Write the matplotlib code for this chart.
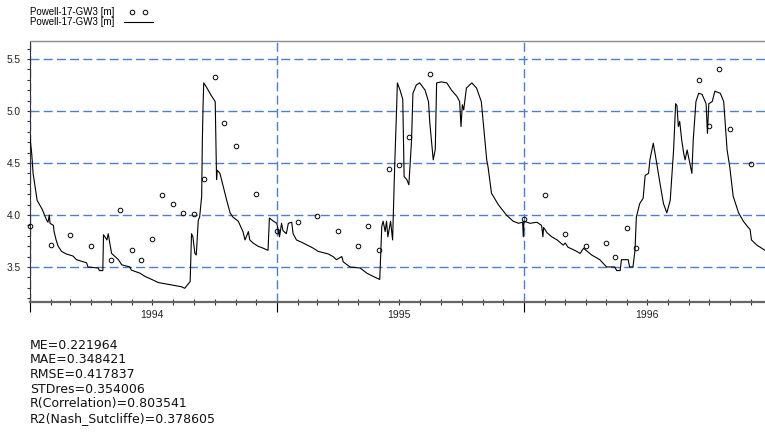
"""
Grundwasserstand Powell-17-GW3: Beobachtung vs. Simulation, 1994-1996,
mit Guetemassen unter dem Diagramm.
"""

import matplotlib
matplotlib.use("Agg")
import matplotlib.pyplot as plt
import matplotlib.dates as mdates
import pandas as pd
from matplotlib.legend_handler import HandlerLine2D
from matplotlib.ticker import FuncFormatter, MultipleLocator, NullFormatter, FormatStrFormatter

OUTPUT = "out.png"

SERIES_LABEL = "Powell-17-GW3 [m]"

# simulierte Ganglinie (Stuetzstellen)
SIM_DATES = [
    "1994-01-01", "1994-01-04", "1994-01-06", "1994-01-09", "1994-01-12", "1994-01-19",
    "1994-01-21", "1994-01-26", "1994-01-28", "1994-01-30", "1994-01-31", "1994-02-05",
    "1994-02-06", "1994-02-09", "1994-02-12", "1994-02-17", "1994-02-24", "1994-03-06",
    "1994-03-11", "1994-03-26", "1994-03-28", "1994-04-12", "1994-04-14", "1994-04-19",
    "1994-04-20", "1994-04-22", "1994-04-25", "1994-04-27", "1994-04-29", "1994-05-02",
    "1994-05-07", "1994-05-12", "1994-05-17", "1994-05-29", "1994-05-31", "1994-06-13",
    "1994-06-20", "1994-07-02", "1994-07-10", "1994-07-27", "1994-08-13", "1994-08-18",
    "1994-08-26", "1994-08-28", "1994-08-30", "1994-09-02", "1994-09-04", "1994-09-07",
    "1994-09-09", "1994-09-12", "1994-09-13", "1994-09-14", "1994-09-15", "1994-09-19",
    "1994-09-26", "1994-10-02", "1994-10-04", "1994-10-05", "1994-10-09", "1994-10-14",
    "1994-10-19", "1994-10-24", "1994-10-28", "1994-11-05", "1994-11-12", "1994-11-15",
    "1994-11-20", "1994-11-22", "1994-11-27", "1994-12-04", "1994-12-12", "1994-12-19",
    "1994-12-21", "1994-12-27", "1995-01-01", "1995-01-05", "1995-01-08", "1995-01-10",
    "1995-01-15", "1995-01-18", "1995-01-23", "1995-01-25", "1995-01-30", "1995-02-09",
    "1995-02-24", "1995-03-03", "1995-03-18", "1995-03-25", "1995-03-30", "1995-04-07",
    "1995-04-09", "1995-04-19", "1995-05-04", "1995-05-14", "1995-05-23", "1995-06-02",
    "1995-06-05", "1995-06-07", "1995-06-10", "1995-06-12", "1995-06-14", "1995-06-18",
    "1995-06-21", "1995-06-24", "1995-06-27", "1995-06-28", "1995-07-02", "1995-07-06",
    "1995-07-08", "1995-07-12", "1995-07-15", "1995-07-19", "1995-07-21", "1995-07-26",
    "1995-07-31", "1995-08-08", "1995-08-13", "1995-08-15", "1995-08-20", "1995-08-23",
    "1995-08-25", "1995-09-01", "1995-09-09", "1995-09-16", "1995-09-24", "1995-09-28",
    "1995-09-30", "1995-10-02", "1995-10-04", "1995-10-08", "1995-10-16", "1995-10-23",
    "1995-10-30", "1995-11-07", "1995-11-09", "1995-11-14", "1995-11-24", "1995-12-06",
    "1995-12-16", "1995-12-24", "1995-12-30", "1995-12-31", "1996-01-01", "1996-01-10",
    "1996-01-20", "1996-01-27", "1996-01-29", "1996-01-30", "1996-02-04", "1996-02-11",
    "1996-02-19", "1996-02-28", "1996-03-02", "1996-03-06", "1996-03-16", "1996-03-24",
    "1996-03-29", "1996-04-10", "1996-04-22", "1996-05-02", "1996-05-14", "1996-05-17",
    "1996-05-22", "1996-05-24", "1996-06-03", "1996-06-05", "1996-06-10", "1996-06-13",
    "1996-06-15", "1996-06-20", "1996-06-25", "1996-06-28", "1996-07-03", "1996-07-05",
    "1996-07-10", "1996-07-15", "1996-07-20", "1996-07-25", "1996-07-30", "1996-08-04",
    "1996-08-09", "1996-08-12", "1996-08-14", "1996-08-16", "1996-08-18", "1996-08-21",
    "1996-08-24", "1996-08-26", "1996-08-29", "1996-08-31", "1996-09-05", "1996-09-07",
    "1996-09-11", "1996-09-15", "1996-09-20", "1996-09-26", "1996-09-28", "1996-09-30",
    "1996-10-05", "1996-10-09", "1996-10-17", "1996-10-22", "1996-10-27", "1996-10-31",
    "1996-11-05", "1996-11-13", "1996-11-20", "1996-11-26", "1996-11-30", "1996-12-02",
    "1996-12-10", "1996-12-22",
]
SIM_VALUES = [
    4.77, 4.59, 4.40, 4.27, 4.14, 4.06,
    4.03, 3.95, 3.93, 4.00, 3.92, 3.90,
    3.84, 3.76, 3.70, 3.65, 3.625, 3.605,
    3.57, 3.54, 3.50, 3.49, 3.465, 3.465,
    3.81, 3.79, 3.76, 3.82, 3.74, 3.63,
    3.60, 3.57, 3.52, 3.50, 3.47, 3.44,
    3.41, 3.375, 3.35, 3.33, 3.31, 3.295,
    3.36, 3.82, 3.79, 3.63, 3.615, 3.95,
    3.98, 4.18, 4.72, 5.04, 5.27, 5.23,
    5.15, 5.09, 4.34, 4.43, 4.40, 4.27,
    4.14, 4.02, 3.98, 3.94, 3.84, 3.76,
    3.84, 3.76, 3.73, 3.70, 3.68, 3.66,
    3.97, 3.94, 3.92, 3.79, 3.92, 3.85,
    3.82, 3.92, 3.93, 3.82, 3.76, 3.73,
    3.68, 3.65, 3.625, 3.60, 3.57, 3.60,
    3.55, 3.50, 3.49, 3.44, 3.41, 3.38,
    3.89, 3.94, 3.84, 3.94, 3.79, 3.94,
    3.76, 4.46, 5.04, 5.27, 5.20, 5.11,
    4.37, 4.34, 4.29, 4.72, 5.17, 5.25,
    5.27, 5.20, 5.09, 4.88, 4.53, 4.63,
    5.27, 5.28, 5.27, 5.20, 5.14, 5.09,
    4.85, 5.06, 5.01, 5.22, 5.27, 5.22,
    5.09, 4.53, 4.46, 4.21, 4.10, 4.00,
    3.94, 3.92, 3.93, 3.79, 3.94, 3.92,
    3.93, 3.90, 3.79, 3.88, 3.83, 3.79,
    3.76, 3.71, 3.73, 3.69, 3.66, 3.63,
    3.68, 3.615, 3.57, 3.50, 3.50, 3.465,
    3.465, 3.57, 3.57, 3.50, 3.50, 3.66,
    3.98, 4.11, 4.16, 4.38, 4.40, 4.53,
    4.69, 4.50, 4.30, 4.11, 4.02, 4.14,
    4.625, 5.07, 5.05, 4.85, 4.90, 4.72,
    4.59, 4.53, 4.625, 4.56, 4.40, 4.72,
    5.09, 5.17, 5.16, 5.07, 4.785, 5.07,
    5.09, 5.19, 5.17, 5.09, 4.625, 4.46,
    4.18, 4.02, 3.94, 3.89, 3.86, 3.76,
    3.71, 3.66,
]

# Messwerte (Stichtagsmessungen)
OBS_DATES = [
    "1994-01-01", "1994-02-01", "1994-03-01", "1994-04-01", "1994-05-01", "1994-05-15",
    "1994-06-01", "1994-06-15", "1994-07-01", "1994-07-15", "1994-08-01", "1994-08-15",
    "1994-09-01", "1994-09-15", "1994-10-01", "1994-10-15", "1994-11-01", "1994-12-01",
    "1995-01-01", "1995-02-01", "1995-03-01", "1995-04-01", "1995-05-01", "1995-05-15",
    "1995-06-01", "1995-06-15", "1995-07-01", "1995-07-15", "1995-08-15",
    "1996-01-01", "1996-02-01", "1996-03-01", "1996-04-01", "1996-05-01", "1996-05-15",
    "1996-06-01", "1996-06-15", "1996-09-15", "1996-10-01", "1996-10-15", "1996-11-01",
    "1996-12-01",
]
OBS_VALUES = [
    3.89, 3.71, 3.81, 3.70, 3.565, 4.045,
    3.66, 3.57, 3.77, 4.19, 4.105, 4.02,
    4.01, 4.35, 5.33, 4.88, 4.66, 4.205,
    3.85, 3.93, 3.99, 3.85, 3.70, 3.89,
    3.66, 4.44, 4.48, 4.75, 5.36,
    3.96, 4.19, 3.82, 3.705, 3.73, 3.60,
    3.87, 3.68, 5.30, 4.86, 5.40, 4.83,
    4.49,
]

STATS_LINES = [
    "ME=0.221964",
    "MAE=0.348421",
    "RMSE=0.417837",
    "STDres=0.354006",
    "R(Correlation)=0.803541",
    "R2(Nash_Sutcliffe)=0.378605",
]

X_RANGE = ("1994-01-01", "1996-12-22")
Y_RANGE = (3.166, 5.668)

GRID_BLUE = "#4f7fcc"
FIG_W, FIG_H = 765, 444


def year_label(x, pos):
    d = mdates.num2date(x)
    return str(d.year) if d.month == 7 else ""


def main() -> None:
    plt.rcParams["font.family"] = ["Liberation Sans", "DejaVu Sans"]
    plt.rcParams["lines.scale_dashes"] = False
    plt.rcParams["grid.color"] = GRID_BLUE
    plt.rcParams["grid.linestyle"] = (0, (6.5, 3))
    plt.rcParams["grid.linewidth"] = 1.0
    plt.rcParams["grid.alpha"] = 1.0

    fig = plt.figure(figsize=(FIG_W / 100, FIG_H / 100), dpi=100)
    ax = fig.add_axes([29.7 / FIG_W, 1 - 301.7 / FIG_H,
                       1 - 29.7 / FIG_W, (301.7 - 41.5) / FIG_H])

    sim_x = pd.to_datetime(SIM_DATES)
    obs_x = pd.to_datetime(OBS_DATES)

    obs_line, = ax.plot(obs_x, OBS_VALUES, "o", ms=3.3, mfc="none", mec="black",
                        mew=0.7, clip_on=False, zorder=4)
    sim_line, = ax.plot(sim_x, SIM_VALUES, color="black", lw=0.8, zorder=3)

    ax.set_xlim(pd.Timestamp(X_RANGE[0]), pd.Timestamp(X_RANGE[1]))
    ax.set_ylim(*Y_RANGE)

    # x-Achse: Jahresgrenzen als Hauptstriche, Monate als Nebenstriche
    ax.xaxis.set_major_locator(mdates.YearLocator())
    ax.xaxis.set_major_formatter(NullFormatter())
    ax.xaxis.set_minor_locator(mdates.MonthLocator())
    ax.xaxis.set_minor_formatter(FuncFormatter(year_label))
    ax.tick_params(axis="x", which="major", direction="out", length=7, width=0.8,
                   color="black")
    ax.tick_params(axis="x", which="minor", direction="inout", length=4, width=0.8,
                   color="#333333", labelsize=7.5, pad=4, labelcolor="#222222")

    ax.yaxis.set_major_locator(MultipleLocator(0.5))
    ax.yaxis.set_minor_locator(MultipleLocator(0.1))
    ax.yaxis.set_major_formatter(FormatStrFormatter("%.1f"))
    ax.tick_params(axis="y", which="both", direction="out", length=2.5, width=0.8,
                   color="#333333", labelsize=7.3, pad=4, labelcolor="#222222")

    ax.grid(True, which="major", axis="both")
    ax.tick_params(which="major", grid_color=GRID_BLUE, grid_alpha=1.0,
                   grid_linewidth=1.0, grid_linestyle=(0, (6.5, 3)))
    ax.set_axisbelow(True)

    ax.spines["right"].set_visible(False)
    ax.spines["top"].set_color("#8a8a8a")
    ax.spines["top"].set_linewidth(1.0)
    ax.spines["left"].set_color("#333333")
    ax.spines["left"].set_linewidth(0.8)
    ax.spines["bottom"].set_color("#666666")
    ax.spines["bottom"].set_linewidth(1.6)

    fig.legend([obs_line, sim_line], [SERIES_LABEL, SERIES_LABEL],
               loc="upper left", bbox_to_anchor=(30 / FIG_W, 1 - 7 / FIG_H),
               bbox_transform=fig.transFigure, frameon=False, fontsize=7,
               markerfirst=False, numpoints=2, handlelength=3.6,
               handletextpad=0.7, labelspacing=0.0, borderpad=0, borderaxespad=0,
               handler_map={obs_line: HandlerLine2D(numpoints=2, marker_pad=1.1)})

    # Guetemasse als ein Textblock
    fig.text(30 / FIG_W, 1 - 338.5 / FIG_H, "\n".join(STATS_LINES), fontsize=9,
             family="DejaVu Sans", va="top", ha="left", color="#111111",
             linespacing=1.17)

    fig.savefig(OUTPUT, dpi=100)
    plt.close(fig)


if __name__ == "__main__":
    main()
